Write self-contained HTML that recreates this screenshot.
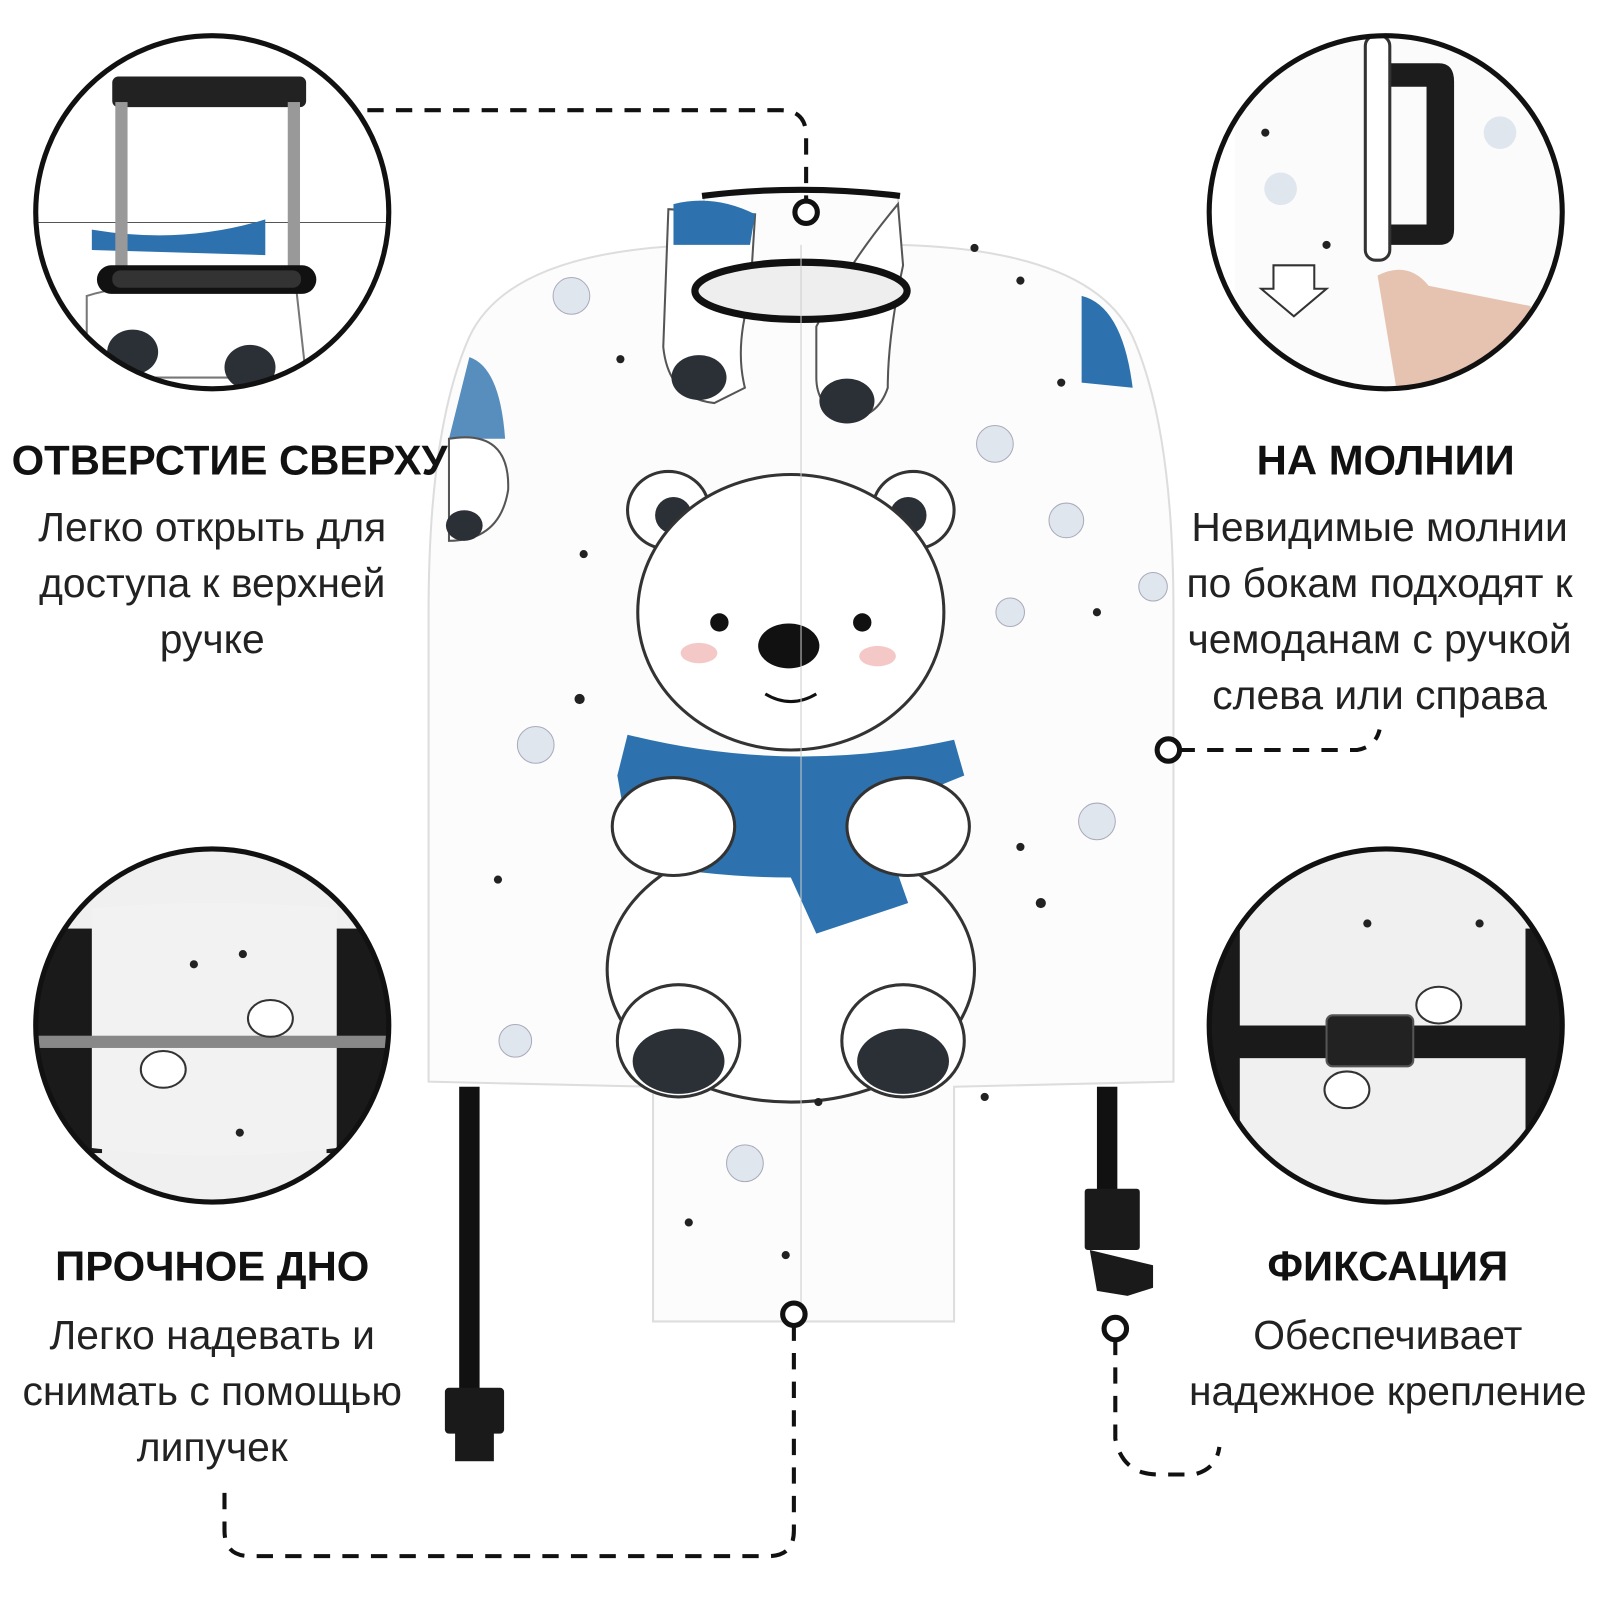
<!DOCTYPE html>
<html><head><meta charset="utf-8"><style>
html,body{margin:0;padding:0;background:#fff;width:1600px;height:1600px;overflow:hidden}
svg{display:block}
.h{font-family:"Liberation Sans",sans-serif;font-weight:bold;font-size:41px;fill:#111;text-anchor:middle}
.b{font-family:"Liberation Sans",sans-serif;font-size:40px;fill:#222;text-anchor:middle}
</style></head><body>
<svg width="1600" height="1600" viewBox="0 0 1568 1568" preserveAspectRatio="none">
<defs>
<clipPath id="c1"><circle cx="208" cy="208" r="173"/></clipPath>
<clipPath id="c2"><circle cx="1358" cy="208" r="173"/></clipPath>
<clipPath id="c3"><circle cx="208" cy="1005" r="173"/></clipPath>
<clipPath id="c4"><circle cx="1358" cy="1005" r="173"/></clipPath>
</defs>
<!-- suitcase cover -->
<path d="M690 192 Q785 182 880 192 L882 240 Q1070 245 1110 330 Q1150 420 1150 600 L1150 1060 L935 1065 L935 1295 L640 1295 L640 1065 L420 1060 L420 600 Q420 420 460 330 Q500 245 688 240 Z" fill="#fcfcfc" stroke="#ddd" stroke-width="2"/>
<path d="M688 192 Q785 180 882 192" fill="none" stroke="#111" stroke-width="6"/>
<!-- top bear bodies -->
<path d="M655 205 L740 210 L735 290 Q720 340 730 380 L700 395 Q655 390 650 340 Z" fill="#fff" stroke="#555" stroke-width="2"/>
<path d="M800 320 Q830 260 880 200 L885 260 Q870 330 870 380 Q860 410 830 410 Q800 400 800 370 Z" fill="#fff" stroke="#555" stroke-width="2"/>
<path d="M660 200 Q700 190 740 210 L735 240 L660 240 Z" fill="#2d72ae"/>
<path d="M1060 290 Q1100 300 1110 380 L1060 375 Z" fill="#2d72ae"/>
<path d="M460 350 Q490 360 495 430 L440 430 Z" fill="#2d72ae" opacity="0.8"/>
<path d="M440 430 Q500 420 498 480 Q490 530 440 530 Z" fill="#fff" stroke="#555" stroke-width="2"/>
<ellipse cx="455" cy="515" rx="18" ry="15" fill="#2b2f36"/>
<ellipse cx="785" cy="285" rx="104" ry="28" fill="#eee" stroke="#111" stroke-width="7"/>
<ellipse cx="685" cy="370" rx="27" ry="22" fill="#2b2f36"/>
<ellipse cx="830" cy="393" rx="27" ry="22" fill="#2b2f36"/>
<!-- main bear -->
<ellipse cx="655" cy="500" rx="40" ry="38" fill="#fff" stroke="#333" stroke-width="3"/>
<ellipse cx="895" cy="500" rx="40" ry="38" fill="#fff" stroke="#333" stroke-width="3"/>
<ellipse cx="660" cy="505" rx="18" ry="18" fill="#2b2f36"/>
<ellipse cx="890" cy="505" rx="18" ry="18" fill="#2b2f36"/>
<ellipse cx="775" cy="950" rx="180" ry="130" fill="#fff" stroke="#333" stroke-width="3"/>
<ellipse cx="775" cy="600" rx="150" ry="135" fill="#fff" stroke="#333" stroke-width="3"/>
<circle cx="705" cy="610" r="9" fill="#111"/><circle cx="845" cy="610" r="9" fill="#111"/>
<ellipse cx="773" cy="633" rx="30" ry="22" fill="#111"/>
<ellipse cx="685" cy="640" rx="18" ry="10" fill="#f5c8c8"/><ellipse cx="860" cy="643" rx="18" ry="10" fill="#f5c8c8"/>
<path d="M750 680 Q775 695 800 680" fill="none" stroke="#111" stroke-width="3"/>
<path d="M615 720 Q775 760 935 725 L945 760 Q870 790 860 800 L890 885 L800 915 L775 860 Q700 860 620 845 L605 760 Z" fill="#2d72ae"/>
<ellipse cx="660" cy="810" rx="60" ry="48" fill="#fff" stroke="#333" stroke-width="3"/>
<ellipse cx="890" cy="810" rx="60" ry="48" fill="#fff" stroke="#333" stroke-width="3"/>
<ellipse cx="665" cy="1020" rx="60" ry="55" fill="#fff" stroke="#333" stroke-width="3"/>
<ellipse cx="885" cy="1020" rx="60" ry="55" fill="#fff" stroke="#333" stroke-width="3"/>
<ellipse cx="665" cy="1040" rx="45" ry="32" fill="#2b2f36"/>
<ellipse cx="885" cy="1040" rx="45" ry="32" fill="#2b2f36"/>
<line x1="785" y1="240" x2="785" y2="1290" stroke="#ccc" stroke-width="1"/>
<g fill="#dfe6ee" stroke="#aab" stroke-width="1">
<circle cx="560" cy="290" r="18"/><circle cx="975" cy="435" r="18"/><circle cx="1045" cy="510" r="17"/><circle cx="525" cy="730" r="18"/><circle cx="1075" cy="805" r="18"/><circle cx="990" cy="600" r="14"/><circle cx="505" cy="1020" r="16"/><circle cx="730" cy="1140" r="18"/><circle cx="1130" cy="575" r="14"/>
</g>
<g fill="#222"><circle cx="955" cy="243" r="4"/><circle cx="1000" cy="275" r="4"/><circle cx="608" cy="352" r="4"/><circle cx="1040" cy="375" r="4"/><circle cx="572" cy="543" r="4"/><circle cx="1075" cy="600" r="4"/><circle cx="568" cy="685" r="5"/><circle cx="488" cy="862" r="4"/><circle cx="1020" cy="885" r="5"/><circle cx="802" cy="1080" r="4"/><circle cx="675" cy="1198" r="4"/><circle cx="770" cy="1230" r="4"/><circle cx="965" cy="1075" r="4"/><circle cx="1000" cy="830" r="4"/></g>
<!-- straps -->
<rect x="450" y="1065" width="20" height="300" fill="#111"/>
<rect x="436" y="1360" width="58" height="45" rx="4" fill="#1a1a1a"/><rect x="446" y="1400" width="38" height="32" fill="#1a1a1a"/>
<rect x="1075" y="1065" width="20" height="110" fill="#111"/>
<rect x="1063" y="1165" width="54" height="60" rx="3" fill="#1a1a1a"/><path d="M1068 1225 L1130 1240 L1130 1262 L1105 1270 L1075 1265 Z" fill="#1a1a1a"/>
<!-- connectors -->
<g fill="none" stroke="#111" stroke-width="4" stroke-dasharray="16 12">
<path d="M360 108 L765 108 Q790 108 790 133 L790 200"/>
<path d="M1155 735 L1330 735 Q1348 732 1352 715"/>
<path d="M778 1298 L778 1500 Q778 1525 753 1525 L245 1525 Q220 1525 220 1500 L220 1455"/>
<path d="M1093 1312 L1093 1410 Q1100 1445 1135 1445 L1170 1445 Q1192 1440 1195 1418"/>
</g>
<g fill="#fff" stroke="#111" stroke-width="5">
<circle cx="790" cy="208" r="11"/><circle cx="1145" cy="735" r="11"/><circle cx="778" cy="1288" r="11"/><circle cx="1093" cy="1302" r="11"/>
</g>
<!-- circle 1 -->
<g clip-path="url(#c1)"><rect x="30" y="30" width="360" height="360" fill="#fff"/>
<line x1="30" y1="218" x2="390" y2="218" stroke="#555" stroke-width="1"/>
<path d="M90 225 Q180 240 260 215 L260 250 L90 245 Z" fill="#2d72ae"/>
<path d="M85 290 Q150 270 290 280 L300 370 L85 370 Z" fill="#fff" stroke="#777" stroke-width="2"/>
<ellipse cx="130" cy="345" rx="25" ry="22" fill="#2b2f36"/><ellipse cx="245" cy="360" rx="25" ry="22" fill="#2b2f36"/>
<rect x="110" y="75" width="190" height="30" rx="6" fill="#222"/>
<rect x="113" y="100" width="12" height="180" fill="#999"/><rect x="282" y="100" width="12" height="180" fill="#999"/>
<rect x="95" y="260" width="215" height="28" rx="14" fill="#111"/><rect x="110" y="265" width="185" height="17" rx="8" fill="#333"/></g>
<circle cx="208" cy="208" r="173" fill="none" stroke="#111" stroke-width="5"/>
<!-- circle 2 -->
<g clip-path="url(#c2)"><rect x="1180" y="30" width="360" height="360" fill="#fbfbfb"/>
<rect x="1180" y="30" width="30" height="360" fill="#fff"/>
<path d="M1350 62 L1410 62 Q1425 62 1425 80 L1425 225 Q1425 240 1410 240 L1350 240 L1350 220 L1398 220 L1398 85 L1350 85 Z" fill="#1c1c1c"/>
<rect x="1338" y="35" width="24" height="220" rx="10" fill="#fff" stroke="#333" stroke-width="3"/>
<path d="M1350 270 Q1380 255 1400 280 Q1450 290 1500 300 L1500 390 L1370 390 Z" fill="#e6c3b0"/>
<path d="M1248 283 L1248 260 L1288 260 L1288 283 L1300 283 L1268 310 L1236 283 Z" fill="#fff" stroke="#333" stroke-width="2"/>
<circle cx="1255" cy="185" r="16" fill="#dfe6ee"/><circle cx="1470" cy="130" r="16" fill="#dfe6ee"/>
<circle cx="1240" cy="130" r="4" fill="#222"/><circle cx="1300" cy="240" r="4" fill="#222"/></g>
<circle cx="1358" cy="208" r="173" fill="none" stroke="#111" stroke-width="5"/>
<!-- circle 3 -->
<g clip-path="url(#c3)"><rect x="30" y="830" width="360" height="360" fill="#f0f0f0"/>
<rect x="30" y="910" width="70" height="220" fill="#1a1a1a"/><rect x="320" y="910" width="70" height="220" fill="#1a1a1a"/>
<path d="M90 890 Q210 880 330 890 L330 1125 Q210 1140 90 1125 Z" fill="#f2f2f2"/>
<rect x="30" y="1015" width="360" height="12" fill="#888"/>
<ellipse cx="265" cy="998" rx="22" ry="18" fill="#fff" stroke="#333" stroke-width="2"/>
<ellipse cx="160" cy="1048" rx="22" ry="18" fill="#fff" stroke="#333" stroke-width="2"/>
<circle cx="190" cy="945" r="4" fill="#222"/><circle cx="238" cy="935" r="4" fill="#222"/><circle cx="235" cy="1110" r="4" fill="#222"/></g>
<circle cx="208" cy="1005" r="173" fill="none" stroke="#111" stroke-width="5"/>
<!-- circle 4 -->
<g clip-path="url(#c4)"><rect x="1180" y="830" width="360" height="360" fill="#f0f0f0"/>
<rect x="1180" y="910" width="35" height="220" fill="#1a1a1a"/><rect x="1495" y="910" width="45" height="220" fill="#1a1a1a"/>
<rect x="1180" y="1005" width="360" height="32" fill="#1a1a1a"/>
<rect x="1300" y="995" width="85" height="50" rx="6" fill="#222" stroke="#555" stroke-width="2"/>
<ellipse cx="1410" cy="985" rx="22" ry="18" fill="#fff" stroke="#333" stroke-width="2"/>
<ellipse cx="1320" cy="1068" rx="22" ry="18" fill="#fff" stroke="#333" stroke-width="2"/>
<circle cx="1340" cy="905" r="4" fill="#222"/><circle cx="1450" cy="905" r="4" fill="#222"/></g>
<circle cx="1358" cy="1005" r="173" fill="none" stroke="#111" stroke-width="5"/>
<!-- text -->
<text class="h" x="225" y="465">ОТВЕРСТИЕ СВЕРХУ</text>
<text class="b" x="208" y="530">Легко открыть для</text>
<text class="b" x="208" y="585">доступа к верхней</text>
<text class="b" x="208" y="640">ручке</text>
<text class="h" x="1358" y="465">НА МОЛНИИ</text>
<text class="b" x="1352" y="530">Невидимые молнии</text>
<text class="b" x="1352" y="585">по бокам подходят к</text>
<text class="b" x="1352" y="640">чемоданам с ручкой</text>
<text class="b" x="1352" y="695">слева или справа</text>
<text class="h" x="208" y="1255">ПРОЧНОЕ ДНО</text>
<text class="b" x="208" y="1322">Легко надевать и</text>
<text class="b" x="208" y="1377">снимать с помощью</text>
<text class="b" x="208" y="1432">липучек</text>
<text class="h" x="1360" y="1255">ФИКСАЦИЯ</text>
<text class="b" x="1360" y="1322">Обеспечивает</text>
<text class="b" x="1360" y="1377">надежное крепление</text>
</svg>
</body></html>
